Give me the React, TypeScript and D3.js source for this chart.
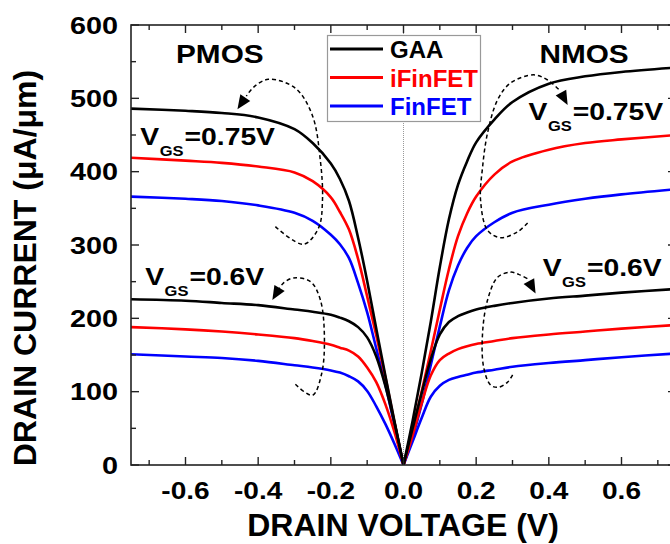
import * as d3 from 'd3';

// drain voltage grid (V); PMOS uses the negative of these
const VOLTS = [0, 0.025, 0.05, 0.075, 0.1, 0.125, 0.15, 0.175, 0.2, 0.25, 0.3, 0.4, 0.5, 0.6, 0.75];

// NMOS drain current (uA/um)
const nGaa075 = [0, 60, 125, 195, 270, 335, 382, 414, 440, 471, 495, 520, 530, 536, 542];
const nIfin075 = [0, 48, 100, 155, 212, 267, 312, 343, 366, 396, 414, 430, 439, 444, 450];
const nFin075 = [0, 38, 83, 136, 189, 238, 272, 296, 312, 331, 344, 355, 363, 369, 376];
const nGaa06 = [0, 50, 98, 144, 178, 195, 203, 208, 212, 217, 221, 227, 231, 235, 240];
const nIfin06 = [0, 40, 84, 122, 143, 152, 158, 162, 165, 169, 173, 178, 182, 186, 191];
const nFin06 = [0, 32, 64, 93, 108, 116, 120, 123, 126, 130, 134, 139, 143, 147, 152];

// PMOS drain current (uA/um), same |V| grid
const pGaa075 = [0, 60, 122, 186, 251, 310, 360, 390, 411, 439, 458, 474, 480, 483, 486];
const pIfin075 = [0, 58, 120, 177, 230, 281, 321, 345, 365, 387, 399, 407, 412, 415, 419];
const pFin075 = [0, 55, 110, 159, 208, 248, 282, 301, 314, 333, 344, 354, 360, 363, 366];
const pGaa06 = [0, 58, 108, 148, 174, 188, 196, 201, 205, 209, 212, 218, 221, 224, 226];
const pIfin06 = [0, 45, 83, 113, 133, 148, 156, 160, 164, 169, 173, 178, 182, 185, 188];
const pFin06 = [0, 29, 56, 80, 101, 114, 121, 126, 129, 133, 136, 142, 146, 148, 151];

const DEVICES = ['GAA', 'iFinFET', 'FinFET'];
const COLORS = ['#000000', '#ff0000', '#0000ff'];

const NMOS = [[nGaa075, nGaa06], [nIfin075, nIfin06], [nFin075, nFin06]];
const PMOS = [[pGaa075, pGaa06], [pIfin075, pIfin06], [pFin075, pFin06]];

// dashed loops around the curves, in data units; last two points = arrow base, tip
const loopP075 = [[-0.3526, 325], [-0.2755, 301], [-0.234, 323], [-0.223, 361], [-0.229, 416], [-0.251, 477], [-0.298, 514], [-0.372, 526], [-0.413, 515], [-0.4325, 503], [-0.457, 485]];
const loopP06 = [[-0.2975, 110], [-0.2507, 95], [-0.226, 123], [-0.2176, 170], [-0.2287, 225], [-0.256, 250], [-0.303, 255], [-0.3306, 248], [-0.344, 239], [-0.361, 225]];
const loopN075 = [[0.3416, 330], [0.314, 318], [0.2672, 310], [0.2314, 320], [0.2121, 361], [0.2176, 406], [0.2314, 453], [0.259, 498], [0.2948, 521], [0.3581, 532], [0.3967, 525], [0.4298, 511], [0.4518, 491]];
const loopN06 = [[0.3003, 123], [0.2865, 113], [0.2617, 106], [0.2397, 109], [0.2204, 134], [0.2176, 180], [0.2314, 225], [0.259, 256], [0.2948, 263], [0.3168, 260], [0.3416, 254], [0.3636, 234]];
const LOOPS = [loopP075, loopP06, loopN075, loopN06];

// V_GS labels: [x (V), y (uA/um), value]
const VGS_LABELS = [[-0.7245, 436, '=0.75V'], [-0.711, 245, '=0.6V'], [0.344, 470, '=0.75V'], [0.383, 258, '=0.6V']];
const SIDE_LABELS = [[-0.5055, 548, 'PMOS'], [0.497, 548, 'NMOS']];

const W = 670;
const H = 544;
const FONT = "'Liberation Sans', Arial, Helvetica, sans-serif";

export default function App() {
  const x = d3.scaleLinear().domain([-0.75, 0.75]).range([131, 676]);
  const y = d3.scaleLinear().domain([0, 600]).range([465, 25]);
  const [x0, x1] = x.range();
  const [y0, y1] = y.range();

  const line = d3.line<[number, number]>()
    .x(d => x(d[0]))
    .y(d => y(d[1]))
    .curve(d3.curveCatmullRom.alpha(0.5));

  const loopLine = d3.line<number[]>()
    .x(d => x(d[0]))
    .y(d => y(d[1]))
    .curve(d3.curveCatmullRom.alpha(0.5));

  const curves: { d: string; color: string; key: string }[] = [];
  // draw blue first, black on top
  [2, 1, 0].forEach(k => {
    [0, 1].forEach(g => {
      const np = VOLTS.map((v, i) => [v, NMOS[k][g][i]] as [number, number]);
      const pp = VOLTS.map((v, i) => [-v, PMOS[k][g][i]] as [number, number]);
      curves.push({ d: line(np) as string, color: COLORS[k], key: `n${k}${g}` });
      curves.push({ d: line(pp) as string, color: COLORS[k], key: `p${k}${g}` });
    });
  });

  const arrowHead = (pts: number[][]) => {
    const b = pts[pts.length - 2];
    const t = pts[pts.length - 1];
    const bx = x(b[0]), by = y(b[1]), tx = x(t[0]), ty = y(t[1]);
    const len = Math.hypot(tx - bx, ty - by);
    const ux = (tx - bx) / len, uy = (ty - by) / len;
    const L = 14, w = 6;
    const cx = tx - ux * L, cy = ty - uy * L;
    return `M${tx},${ty}L${cx - uy * w},${cy + ux * w}L${cx + uy * w},${cy - ux * w}Z`;
  };

  const fmt = (v: number) => v.toFixed(1);

  return (
    <svg width={W} height={H} style={{ position: 'absolute', left: 0, top: 0, background: '#fff' }} fontFamily={FONT} fontWeight="bold">
      <defs>
        <clipPath id="plot">
          <rect x={x0} y={y1} width={x1 - x0} height={y0 - y1} />
        </clipPath>
      </defs>

      {/* zero line */}
      <line x1={x(0)} x2={x(0)} y1={y1} y2={y0} stroke="#999" strokeWidth={1} strokeDasharray="1 1" />

      {/* curves */}
      <g clipPath="url(#plot)" fill="none" strokeWidth={2.6} strokeLinejoin="round">
        {curves.map(c => <path key={c.key} d={c.d} stroke={c.color} />)}
      </g>

      {/* dashed loops with arrows */}
      {LOOPS.map((pts, i) => (
        <g key={i}>
          <path d={loopLine(pts.slice(0, -1)) as string} fill="none" stroke="#000" strokeWidth={1.5} strokeDasharray="4 3" />
          <path d={arrowHead(pts)} fill="#000" />
        </g>
      ))}

      {/* frame */}
      <rect x={x0} y={y1} width={x1 - x0} height={y0 - y1} fill="none" stroke="#222" strokeWidth={1.6} />

      {/* x ticks */}
      {x.ticks(15).map(t => {
        const major = Math.abs(Math.round(t * 10)) % 2 === 0;
        const l = major ? 8 : 5;
        return (
          <g key={`xt${t}`} stroke="#222" strokeWidth={1.4}>
            <line x1={x(t)} x2={x(t)} y1={y0} y2={y0 - l} />
            <line x1={x(t)} x2={x(t)} y1={y1} y2={y1 + l} />
          </g>
        );
      })}
      {x.ticks(8).map(t => (
        <text key={`xl${t}`} transform={`translate(${x(t)},499) scale(1.22,1)`} textAnchor="middle" fontSize={23}>{fmt(t)}</text>
      ))}

      {/* y ticks */}
      {y.ticks(12).map(t => {
        const major = t % 100 === 0;
        const l = major ? 8 : 5;
        return (
          <g key={`yt${t}`} stroke="#222" strokeWidth={1.4}>
            <line x1={x0} x2={x0 + l} y1={y(t)} y2={y(t)} />
            <line x1={x1} x2={x1 - l} y1={y(t)} y2={y(t)} />
          </g>
        );
      })}
      {y.ticks(6).map(t => (
        <text key={`yl${t}`} transform={`translate(118,${y(t) + 8.5}) scale(1.2,1)`} textAnchor="end" fontSize={24}>{t}</text>
      ))}

      {/* axis titles */}
      <text x={403} y={536} textAnchor="middle" fontSize={32}>DRAIN VOLTAGE (V)</text>
      <text transform="translate(36,268) rotate(-90)" textAnchor="middle" fontSize={32}>DRAIN CURRENT (μA/μm)</text>

      {/* PMOS / NMOS */}
      {SIDE_LABELS.map(([v, c, s]) => (
        <text key={s as string} transform={`translate(${x(v as number)},${y(c as number)}) scale(1.19,1)`} textAnchor="middle" fontSize={25}>{s}</text>
      ))}

      {/* V_GS labels */}
      {VGS_LABELS.map(([v, c, s], i) => (
        <g key={`vgs${i}`} transform={`translate(${x(v as number)},${y(c as number)}) scale(1.18,1)`}>
          <text x={0} y={0} fontSize={24}>V</text>
          <text x={16.5} y={11} fontSize={14}>GS</text>
          <text x={37.5} y={0} fontSize={24}>{s}</text>
        </g>
      ))}

      {/* legend */}
      <rect x={327.5} y={35.5} width={153} height={86} fill="#fff" stroke="#999" strokeWidth={1.2} />
      {DEVICES.map((name, i) => (
        <g key={name}>
          <line x1={330} x2={383} y1={49 + i * 28.5} y2={49 + i * 28.5} stroke={COLORS[i]} strokeWidth={3} />
          <text x={390} y={58 + i * 28.5} fontSize={24} fill={COLORS[i]}>{name}</text>
        </g>
      ))}
    </svg>
  );
}
